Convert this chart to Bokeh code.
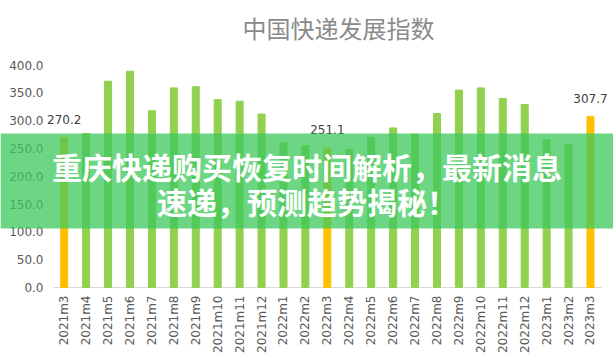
from bokeh.plotting import figure
from bokeh.models import (ColumnDataSource, FixedTicker, BoxAnnotation, Label,
                          Range1d)
from bokeh.core.properties import value
from bokeh.embed import file_html
from bokeh.resources import INLINE
import math

# ---- data ----
months = ["2021m3", "2021m4", "2021m5", "2021m6", "2021m7", "2021m8", "2021m9",
          "2021m10", "2021m11", "2021m12", "2022m1", "2022m2", "2022m3",
          "2022m4", "2022m5", "2022m6", "2022m7", "2022m8", "2022m9",
          "2022m10", "2022m11", "2022m12", "2023m1", "2023m2", "2023m3"]
index_values = [270.2, 277, 371, 389, 318, 359, 361,
                338, 335, 312, 261, 255, 251.1,
                248, 270, 287, 276, 313, 355,
                359, 340, 329, 266, 257, 307.7]
highlight = ["2021m3", "2022m3", "2023m3"]
y_ticks = [0, 50, 100, 150, 200, 250, 300, 350, 400]
title_text = "中国快递发展指数"
banner_lines = ["重庆快递购买恢复时间解析，最新消息", "速递，预测趋势揭秘！"]

GREEN = "#92D050"
ORANGE = "#FFC000"

xs = list(range(len(months)))
colors = [ORANGE if m in highlight else GREEN for m in months]
src = ColumnDataSource(dict(x=xs, top=index_values, color=colors))

lab_x = [i for i, m in zip(xs, months) if m in highlight]
lab_y = [v for m, v in zip(months, index_values) if m in highlight]
lab_src = ColumnDataSource(dict(x=lab_x, y=lab_y, t=["%.1f" % v for v in lab_y]))

tick_src = ColumnDataSource(dict(x=[-0.944] * len(y_ticks), y=y_ticks,
                                 t=["%.1f" % t for t in y_ticks]))

p = figure(width=613, height=363,
           x_range=Range1d(-2.905, 25.05), y_range=Range1d(-14.39, 516.2),
           output_backend="svg", toolbar_location=None, y_axis_location=None,
           min_border_left=0, min_border_right=0, min_border_top=0,
           min_border_bottom=68)
p.outline_line_color = None
p.background_fill_color = "white"
p.border_fill_color = "white"
p.xgrid.grid_line_color = None
p.ygrid.grid_line_color = None

# category axis base line at zero
p.segment(x0=[-0.5], x1=[len(months) - 0.5], y0=[0], y1=[0],
          line_color="#d9d9d9", line_width=1)

p.vbar(x="x", bottom=0, top="top", width=0.32, color="color", source=src)

# value labels
p.text(x="x", y="y", text="t", source=lab_src, text_align="center",
       text_baseline="middle", y_offset=-18, text_font_size="12px",
       text_color="#404040", text_font=value("DejaVu Sans"))

# y tick labels (placed with the y scale)
p.text(x="x", y="y", text="t", source=tick_src, text_align="right",
       text_baseline="middle", text_font_size="12px",
       text_color="#595959", text_font=value("DejaVu Sans"))

# x axis (labels only)
p.xaxis.ticker = FixedTicker(ticks=xs)
p.xaxis.major_label_overrides = {i: m for i, m in zip(xs, months)}
p.xaxis.axis_line_color = None
p.xaxis.major_tick_line_color = None
p.xaxis.minor_tick_line_color = None
p.xaxis.major_tick_out = 0
p.xaxis.major_tick_in = 0
p.xaxis.major_label_orientation = math.pi / 2
p.xaxis.major_label_standoff = 0
p.xaxis.major_label_text_font = "DejaVu Sans"
p.xaxis.major_label_text_font_size = "12px"
p.xaxis.major_label_text_color = "#595959"

# title
p.add_layout(Label(x=12.51, y=467.6, text=title_text, text_align="center",
                   text_baseline="middle", text_font="Noto Sans CJK SC",
                   text_font_size="24px", text_color="#8a8a8a"))

# banner overlay
p.add_layout(BoxAnnotation(bottom=106.1, top=277,
                           fill_color="#3cc85c", fill_alpha=0.75,
                           line_color=None))
p.add_layout(Label(x=11.07, y=219.4, text=banner_lines[0], text_align="center",
                   text_baseline="middle", text_font="Noto Sans CJK SC",
                   text_font_style="bold", text_font_size="30px",
                   text_color="white"))
p.add_layout(Label(x=11.07, y=154.7, text=banner_lines[1], text_align="center",
                   text_baseline="middle", text_font="Noto Sans CJK SC",
                   text_font_style="bold", text_font_size="30px",
                   text_color="white"))

open("out.html", "w").write(file_html(p, INLINE))
